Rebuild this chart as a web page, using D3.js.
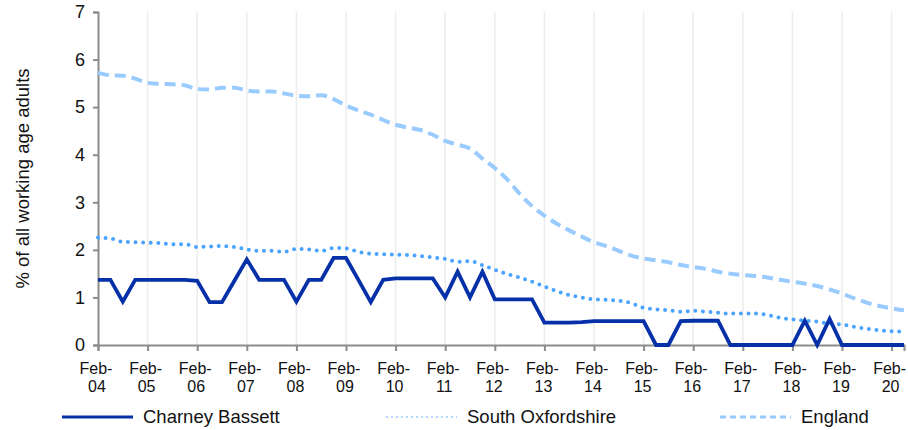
<!DOCTYPE html>
<html lang="en">
<head>
<meta charset="utf-8">
<title>Working age adults claiming benefits</title>
<script src="https://d3js.org/d3.v7.min.js"></script>
<style>
  body { margin: 0; background: #fff; }
  text { font-family: "Liberation Sans", Arial, sans-serif; fill: #111; }
</style>
</head>
<body>
<div id="chart"></div>
<script>
// quarterly values, Feb-04 onwards
var years = ["04","05","06","07","08","09","10","11","12","13","14","15","16","17","18","19","20"]

var charney = [1.37,1.37,0.91,1.37,1.37,1.37,1.37,1.37,1.35,0.9,0.9,1.35,1.8,1.37,1.37,1.37,
  0.91,1.37,1.37,1.83,1.83,1.37,0.9,1.37,1.4,1.4,1.4,1.4,1.0,1.54,1.0,1.54,
  0.96,0.96,0.96,0.96,0.47,0.47,0.47,0.48,0.5,0.5,0.5,0.5,0.5,0,0,0.5,
  0.51,0.51,0.51,0,0,0,0,0,0,0.51,0,0.55,0,0,0,0,0,0]

var southOx = [2.26,2.24,2.17,2.16,2.15,2.14,2.12,2.12,2.06,2.07,2.08,2.06,2.01,1.98,1.98,1.96,
  2.02,2.01,1.98,2.04,2.03,1.96,1.92,1.91,1.9,1.89,1.87,1.84,1.81,1.75,1.76,1.68,
  1.58,1.49,1.42,1.33,1.23,1.13,1.05,1.0,0.96,0.95,0.93,0.88,0.78,0.75,0.73,0.7,
  0.72,0.7,0.68,0.66,0.66,0.66,0.63,0.57,0.54,0.51,0.49,0.45,0.43,0.38,0.34,0.31,0.29,0.28]

var england = [5.72,5.67,5.66,5.6,5.51,5.49,5.48,5.46,5.38,5.37,5.41,5.41,5.35,5.33,5.33,5.29,
  5.24,5.23,5.25,5.17,5.03,4.93,4.84,4.73,4.63,4.57,4.52,4.42,4.29,4.21,4.13,3.92,
  3.72,3.48,3.18,2.92,2.72,2.55,2.41,2.28,2.16,2.08,1.98,1.88,1.82,1.78,1.74,1.68,
  1.64,1.6,1.54,1.5,1.47,1.45,1.42,1.37,1.33,1.29,1.24,1.17,1.08,0.98,0.89,0.82,0.77,0.73]

var yTicks = [0,1,2,3,4,5,6,7]

var w = 908
var h = 430
var pLeft = 98, pRight = 904, pTop = 12, pBottom = 345

var svg = d3.select("#chart").append("svg")
  .attr("width", w)
  .attr("height", h)

var xScale = d3.scaleLinear()
  .domain([0, charney.length - 1])
  .range([pLeft, pRight])

var yScale = d3.scaleLinear()
  .domain([0, 7])
  .range([pBottom, pTop])

var yearIdx = years.map(function(d, i) { return i * 4 })

// vertical gridlines
svg.selectAll(".grid")
  .data(yearIdx.slice(1))
  .enter()
  .append("line")
  .attr("x1", function(d) { return xScale(d) })
  .attr("x2", function(d) { return xScale(d) })
  .attr("y1", pTop)
  .attr("y2", pBottom)
  .style("stroke", "#ececec")
  .style("stroke-width", 1.5)

// y axis
var yAxis = d3.axisLeft(yScale).tickValues(yTicks).tickFormat(d3.format("d")).tickSize(5).tickPadding(8)
var gy = svg.append("g")
  .attr("transform", "translate(" + pLeft + ",0)")
  .call(yAxis)
gy.select(".domain").attr("stroke", "#8c8c8c").attr("stroke-width", 2)
gy.selectAll(".tick line").attr("stroke", "#8c8c8c").attr("stroke-width", 2)
gy.selectAll(".tick text")
  .style("font-size", "18px")
  .style("font-family", "Liberation Sans, Arial, sans-serif")
  .attr("fill", "#111")

// x axis
var xAxis = d3.axisBottom(xScale).tickValues(yearIdx).tickSize(6).tickFormat("")
var gx = svg.append("g")
  .attr("transform", "translate(0," + pBottom + ")")
  .call(xAxis)
gx.select(".domain").attr("stroke", "#8c8c8c").attr("stroke-width", 2)
gx.selectAll(".tick line").attr("stroke", "#8c8c8c").attr("stroke-width", 2)

var labels = gx.selectAll(".lab")
  .data(years)
  .enter()
  .append("text")
  .attr("class", "lab")
  .attr("text-anchor", "middle")
  .style("font-size", "16px")
labels.append("tspan")
  .attr("x", function(d, i) { return xScale(i * 4) - 2 })
  .attr("y", 29)
  .text("Feb-")
labels.append("tspan")
  .attr("x", function(d, i) { return xScale(i * 4) - 1 })
  .attr("y", 47)
  .text(function(d) { return d })

// y title
svg.append("text")
  .attr("transform", "translate(29," + ((pTop + pBottom) / 2) + ") rotate(-90)")
  .attr("text-anchor", "middle")
  .style("font-size", "18.5px")
  .text("% of all working age adults")

var smooth = d3.line()
  .x(function(d, i) { return xScale(i) })
  .y(function(d) { return yScale(d) })
  .curve(d3.curveMonotoneX)

var straight = d3.line()
  .x(function(d, i) { return xScale(i) })
  .y(function(d) { return yScale(d) })

svg.append("path")
  .datum(england)
  .attr("d", smooth)
  .style("fill", "none")
  .style("stroke", "#99cbff")
  .style("stroke-width", 4)
  .style("stroke-dasharray", "11,6")

svg.append("path")
  .datum(southOx)
  .attr("d", smooth)
  .style("fill", "none")
  .style("stroke", "#4aa3ff")
  .style("stroke-width", 4)
  .style("stroke-linecap", "round")
  .style("stroke-dasharray", "0,7.6")

svg.append("path")
  .datum(charney)
  .attr("d", straight)
  .style("fill", "none")
  .style("stroke", "#0630a8")
  .style("stroke-width", 3.8)
  .style("stroke-linejoin", "miter")

// legend
var legend = [
  {name: "Charney Bassett", x: 62, color: "#0630a8", dash: null, width: 3},
  {name: "South Oxfordshire", x: 386, color: "#b3d8ff", dash: "2,3", width: 2},
  {name: "England", x: 720, color: "#99cbff", dash: "6,4", width: 3}
]
var lg = svg.selectAll(".legend")
  .data(legend)
  .enter()
  .append("g")
lg.append("line")
  .attr("x1", function(d) { return d.x })
  .attr("x2", function(d) { return d.x + 71 })
  .attr("y1", 417)
  .attr("y2", 417)
  .style("stroke", function(d) { return d.color })
  .style("stroke-width", function(d) { return d.width })
  .style("stroke-dasharray", function(d) { return d.dash })
lg.append("text")
  .attr("x", function(d) { return d.x + 81 })
  .attr("y", 423)
  .style("font-size", "18.5px")
  .text(function(d) { return d.name })
</script>
</body>
</html>
